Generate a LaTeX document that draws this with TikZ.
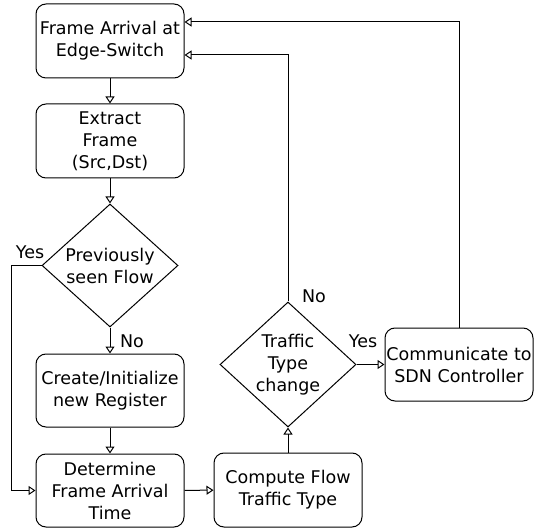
\documentclass[tikz,border=0pt]{standalone}
\usepackage{fontspec}
\setmainfont{DejaVu Sans}
\usetikzlibrary{shapes.geometric, arrows.meta, calc}

\begin{document}
\begin{tikzpicture}[x=1pt, y=-1pt,
  font=\fontsize{17.5}{22}\selectfont,
  proc/.style={draw, rounded corners=10pt, minimum width=148pt, minimum height=74pt,
               align=center, inner sep=0pt, line width=1pt},
  decide/.style={draw, diamond, inner sep=0pt, line width=1pt},
  txt/.style={align=center, inner sep=0pt},
  flow/.style={line width=1pt, -{Triangle[open, length=7pt, width=9pt]}}
]
\useasboundingbox (0,0) rectangle (538,529);

% process boxes
\node[proc] (b1) at (110,41)    {Frame Arrival at\\Edge-Switch};
\node[proc] (b2) at (110,141)   {Extract\\Frame\\(Src,Dst)};
\node[proc, minimum height=73pt] (b3) at (110,390.5) {Create/Initialize\\new Register};
\node[proc, minimum height=73pt] (b4) at (110,490.5) {Determine\\Frame Arrival\\Time};
\node[proc] (b5) at (288,490)   {Compute Flow\\Traffic Type};
\node[proc, minimum height=73pt] (b6) at (459,364.5) {Communicate to\\SDN Controller};

% decisions
\node[decide, minimum width=136pt, minimum height=123pt] (d1) at (110,265.5) {};
\node[txt] (d1t) at (d1) {Previously\\seen Flow};
\node[decide, minimum width=136pt, minimum height=125pt] (d2) at (288,364.5) {};
\node[txt] (d2t) at (d2) {Traffic\\Type\\change};

% branch labels
\node[txt] (yes1) at (30,252) {Yes};
\node[txt] (no1)  at (132,341) {No};
\node[txt] (no2)  at (314,296) {No};
\node[txt] (yes2) at (363,341) {Yes};

% connectors
\draw[flow] (b1) -- (b2);
\draw[flow] (b2) -- (d1);
\draw[flow] (d1) -- (b3);
\draw[flow] (b3) -- (b4);
\draw[flow] (d1.west) -- ++(-30,0) |- (b4.west);
\draw[flow] (b4) -- (b5);
\draw[flow] (b5) -- (d2);
\draw[flow] (d2) -- (b6);
\draw[flow] (d2.north) |- ($(b1.east)+(0,14)$);
\draw[flow] (b6.north) |- ($(b1.east)+(0,-19)$);
\end{tikzpicture}
\end{document}
